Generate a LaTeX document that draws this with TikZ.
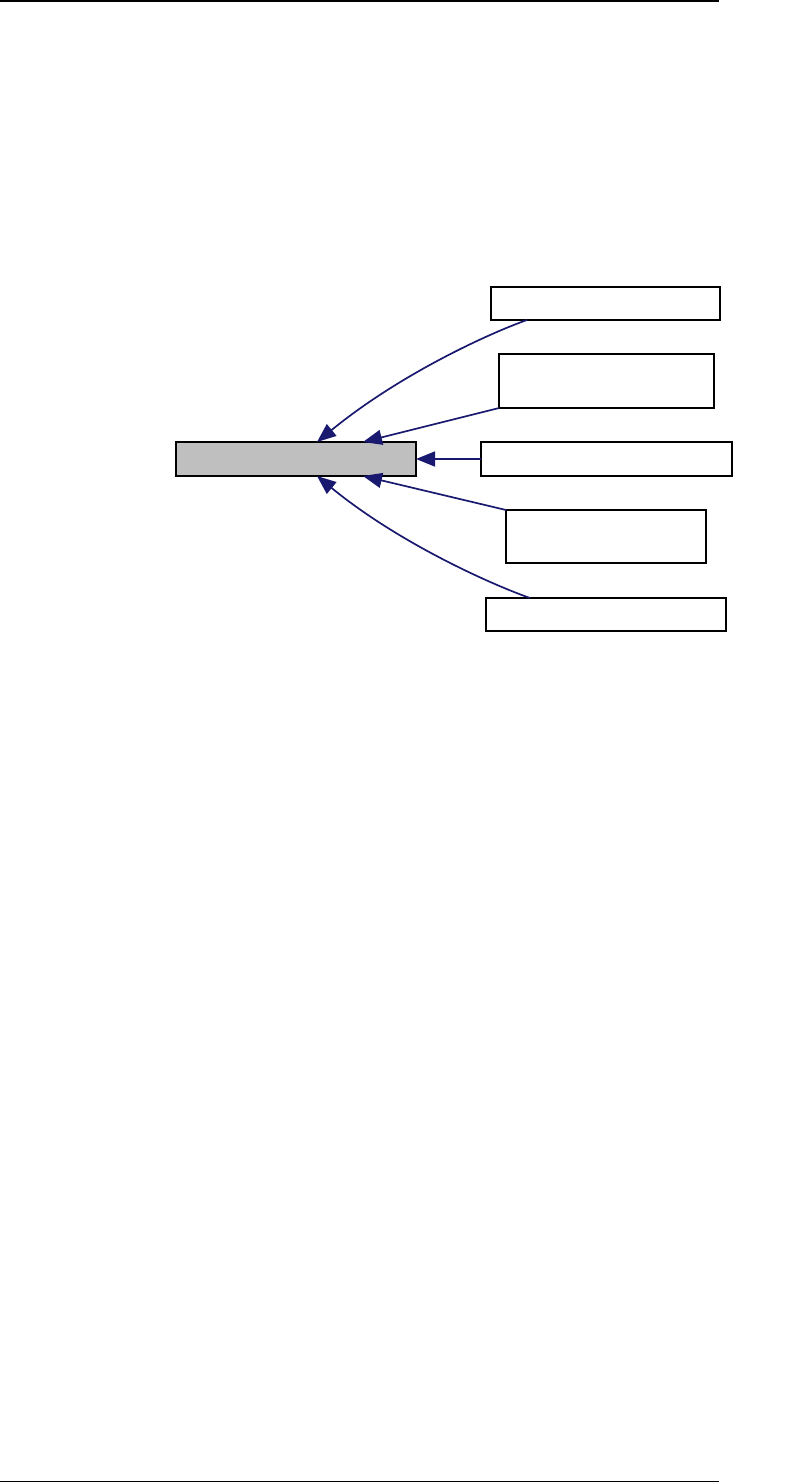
\documentclass[tikz,border=0pt]{standalone}
\usepackage{xcolor}
\usepackage{tikz}
\usetikzlibrary{arrows.meta,positioning}
\definecolor{inkblue}{HTML}{191970}
\definecolor{shade}{HTML}{BFBFBF}
\tikzset{
  cls/.style={rectangle, draw=black, fill=white, line width=1.5pt, inner sep=0pt, outer sep=0pt},
  basecls/.style={cls, fill=shade},
  inh/.style={{Triangle[length=19pt,width=15pt,fill=inkblue]}-, draw=inkblue, line width=1.7pt},
  rule/.style={draw=black, line width=1.5pt}
}
\begin{document}
\begin{tikzpicture}[x=1pt, y=-1pt]
 \useasboundingbox (0,0) rectangle (804,1483);
 % page rules
 \coordinate (tl) at (0,0.75); \coordinate (tr) at (719,0.75);
 \coordinate (bl) at (0,1481.5); \coordinate (br) at (719,1481.5);
 \draw[rule] (tl) -- (tr); \draw[rule] (bl) -- (br);
 % classes
 \node[basecls, minimum width=240pt, minimum height=34pt] (base) at (296,459) {};
 \node[cls, minimum width=229pt, minimum height=33pt] (subA) at (605.5,303.5) {};
 \node[cls, minimum width=215pt, minimum height=54pt] (subB) at (606.5,381) {};
 \node[cls, minimum width=251pt, minimum height=34pt] (subC) at (606.5,459) {};
 \node[cls, minimum width=200pt, minimum height=53pt] (subD) at (606,536.5) {};
 \node[cls, minimum width=240pt, minimum height=33pt] (subE) at (606,614.5) {};
 % inheritance
 \draw[inh] ([xshift=141pt]base.north west) .. controls (400,374) and (490,333) .. ([xshift=36pt]subA.south west);
 \draw[inh] ([xshift=187pt]base.north west) -- (subB.south west);
 \draw[inh] (base.east) -- (subC.west);
 \draw[inh] ([xshift=187pt]base.south west) -- (subD.north west);
 \draw[inh] ([xshift=141pt]base.south west) .. controls (400,544) and (493,585) .. ([xshift=44pt]subE.north west);
\end{tikzpicture}
\end{document}
